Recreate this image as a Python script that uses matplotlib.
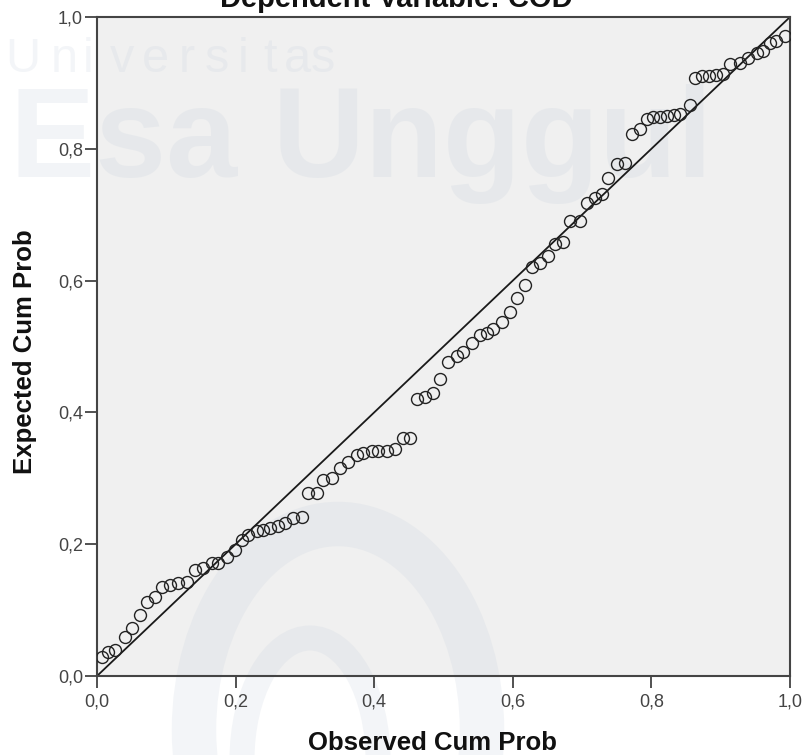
import matplotlib
matplotlib.use("Agg")
import matplotlib.pyplot as plt
from matplotlib.patches import Ellipse
from matplotlib.ticker import FuncFormatter, MultipleLocator

# P-P plot of regression standardized residual
observed_cum_prob = [0.007, 0.016, 0.026, 0.040, 0.050, 0.062, 0.072, 0.084, 0.094, 0.105,
                     0.117, 0.130, 0.141, 0.153, 0.166, 0.175, 0.188, 0.199, 0.209, 0.218,
                     0.231, 0.240, 0.250, 0.261, 0.271, 0.283, 0.296, 0.304, 0.317, 0.326,
                     0.339, 0.351, 0.362, 0.375, 0.384, 0.397, 0.406, 0.418, 0.430, 0.442,
                     0.452, 0.462, 0.473, 0.485, 0.495, 0.506, 0.519, 0.528, 0.541, 0.553,
                     0.563, 0.571, 0.584, 0.596, 0.606, 0.617, 0.628, 0.639, 0.651, 0.661,
                     0.673, 0.683, 0.697, 0.707, 0.719, 0.729, 0.737, 0.750, 0.762, 0.772,
                     0.784, 0.794, 0.803, 0.813, 0.823, 0.832, 0.841, 0.856, 0.863, 0.873,
                     0.883, 0.893, 0.903, 0.913, 0.928, 0.940, 0.952, 0.961, 0.971, 0.980,
                     0.993]
expected_cum_prob = [0.029, 0.036, 0.039, 0.059, 0.073, 0.092, 0.112, 0.120, 0.135, 0.138,
                     0.141, 0.143, 0.161, 0.164, 0.171, 0.171, 0.180, 0.191, 0.206, 0.214,
                     0.220, 0.221, 0.224, 0.227, 0.232, 0.239, 0.242, 0.277, 0.277, 0.297,
                     0.300, 0.315, 0.324, 0.335, 0.338, 0.341, 0.341, 0.342, 0.344, 0.361,
                     0.361, 0.420, 0.423, 0.430, 0.450, 0.476, 0.486, 0.491, 0.506, 0.517,
                     0.520, 0.527, 0.537, 0.553, 0.573, 0.594, 0.620, 0.626, 0.638, 0.656,
                     0.658, 0.691, 0.691, 0.718, 0.726, 0.732, 0.756, 0.777, 0.779, 0.823,
                     0.830, 0.845, 0.848, 0.849, 0.850, 0.851, 0.853, 0.867, 0.908, 0.910,
                     0.911, 0.912, 0.913, 0.929, 0.930, 0.938, 0.945, 0.948, 0.961, 0.964,
                     0.971]
ref_line = [0.0, 1.0]

title = "Dependent Variable: COD"
xlabel = "Observed Cum Prob"
ylabel = "Expected Cum Prob"

W, H = 806, 755
plt.rcParams['font.family'] = ['Liberation Sans', 'DejaVu Sans']

fig = plt.figure(figsize=(W / 100, H / 100), dpi=100)
fig.patch.set_facecolor("white")
ax = fig.add_axes([97 / W, 1 - 676 / H, 693 / W, 659 / H])
ax.set_facecolor("#f0f0f0")


def fx(px):
    return px / W


def fy(py):
    return 1 - py / H


# faint watermark behind the plot
wm = "#c5cfdc"
for ch, cx in zip("Universitas", [23, 64, 88, 122, 155, 187, 217, 243, 270, 297, 323]):
    ax.text(fx(cx), fy(72), ch, transform=fig.transFigure, ha="center", va="baseline",
            fontsize=35, color=wm, alpha=0.2, zorder=0.5, clip_on=False)
ax.text(fx(10), fy(177), "Esa Unggul", transform=fig.transFigure, ha="left", va="baseline",
        fontsize=92, fontweight="bold", color=wm, alpha=0.22, zorder=0.5, clip_on=False)
for (cx, cy, w, h, lw) in [(338, 730, 288, 412, 32), (310, 760, 136, 244, 18)]:
    ax.add_patch(Ellipse((fx(cx), fy(cy)), fx(w), h / H, fill=False, edgecolor=wm,
                         linewidth=lw, alpha=0.2, transform=fig.transFigure,
                         zorder=0.5, clip_on=False))

ax.plot(ref_line, ref_line, color="#1a1a1a", linewidth=1.3, zorder=2)
ax.plot(observed_cum_prob, expected_cum_prob, linestyle="none", marker="o",
        markersize=8.6, markerfacecolor="none", markeredgecolor="#222222",
        markeredgewidth=1.0, zorder=3)

ax.set_xlim(0, 1)
ax.set_ylim(0, 1)
comma = FuncFormatter(lambda v, p: f"{v:.1f}".replace(".", ","))
for axis in (ax.xaxis, ax.yaxis):
    axis.set_major_locator(MultipleLocator(0.2))
    axis.set_major_formatter(comma)
ax.tick_params(axis="both", direction="out", length=8.5, width=1.2, color="#333333",
               labelsize=13, labelcolor="#444444")
ax.tick_params(axis="x", pad=4)
ax.tick_params(axis="y", pad=1.5)
for s in ax.spines.values():
    s.set_color("#444444")
    s.set_linewidth(1.5)

fig.text(fx(432), fy(750), xlabel, ha="center", va="baseline", fontsize=18.5,
         fontweight="bold", color="#111111")
fig.text(fx(25), fy(352), ylabel, ha="center", va="center", rotation=90,
         fontsize=18.5, fontweight="bold", color="#111111")
fig.text(fx(396), fy(7), title, ha="center", va="baseline", fontsize=21,
         fontweight="bold", color="#111111")

fig.savefig("out.png", dpi=100, facecolor="white")
